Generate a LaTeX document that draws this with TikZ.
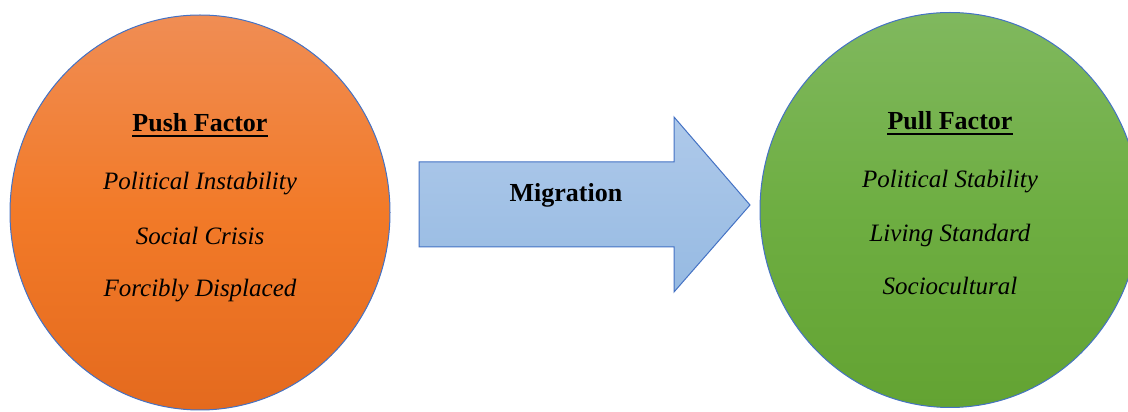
\documentclass[tikz,border=0pt]{standalone}
\usepackage{fontspec}
\setmainfont{Liberation Serif}
\usetikzlibrary{shapes.geometric}

\definecolor{pushtop}{RGB}{240,141,84}
\definecolor{pushmid}{RGB}{242,122,40}
\definecolor{pushbot}{RGB}{228,106,30}
\definecolor{pulltop}{RGB}{128,184,94}
\definecolor{pullmid}{RGB}{110,174,66}
\definecolor{pullbot}{RGB}{99,163,50}
\definecolor{migtop}{RGB}{174,201,234}
\definecolor{migbot}{RGB}{150,186,226}
\definecolor{rimblue}{RGB}{68,114,196}

\begin{document}
\begin{tikzpicture}[x=1pt,y=1pt,
  factor/.style={ellipse,draw=rimblue,line width=1pt,inner sep=0pt,minimum width=380,minimum height=395},
  heading/.style={anchor=base,inner sep=0pt,font=\fontsize{26}{30}\selectfont\bfseries},
  item/.style={anchor=base,inner sep=0pt,font=\fontsize{25}{30}\selectfont\itshape},
  migarrow/.style={draw=rimblue,line width=1pt,top color=migtop,bottom color=migbot,line join=miter}]

\useasboundingbox (0,0) rectangle (1128,412);

%Push side
\node[factor,top color=pushtop,bottom color=pushbot,middle color=pushmid] (push) at (200,199.5) {};
\node[heading] (pushhd) at (200,280) {Push Factor};
\draw[line width=1.4pt] ([yshift=-4]pushhd.base west) -- ([yshift=-4]pushhd.base east);
\node[item] (push1) at (200,222) {Political Instability};
\node[item] (push2) at (200,167) {Social Crisis};
\node[item] (push3) at (200,115) {Forcibly Displaced};

%Pull side
\node[factor,top color=pulltop,bottom color=pullbot,middle color=pullmid] (pull) at (950,202) {};
\node[heading] (pullhd) at (950,282) {Pull Factor};
\draw[line width=1.4pt] ([yshift=-4]pullhd.base west) -- ([yshift=-4]pullhd.base east);
\node[item] (pull1) at (950,224) {Political Stability};
\node[item] (pull2) at (950,170) {Living Standard};
\node[item] (pull3) at (950,117) {Sociocultural};

%Bridge
\draw[migarrow] (419,250) -- (674,250) -- (674,295) -- (750,207) -- (674,120) -- (674,165) -- (419,165) -- cycle;
\node[heading] (mig) at (566,210) {Migration};

\end{tikzpicture}
\end{document}
